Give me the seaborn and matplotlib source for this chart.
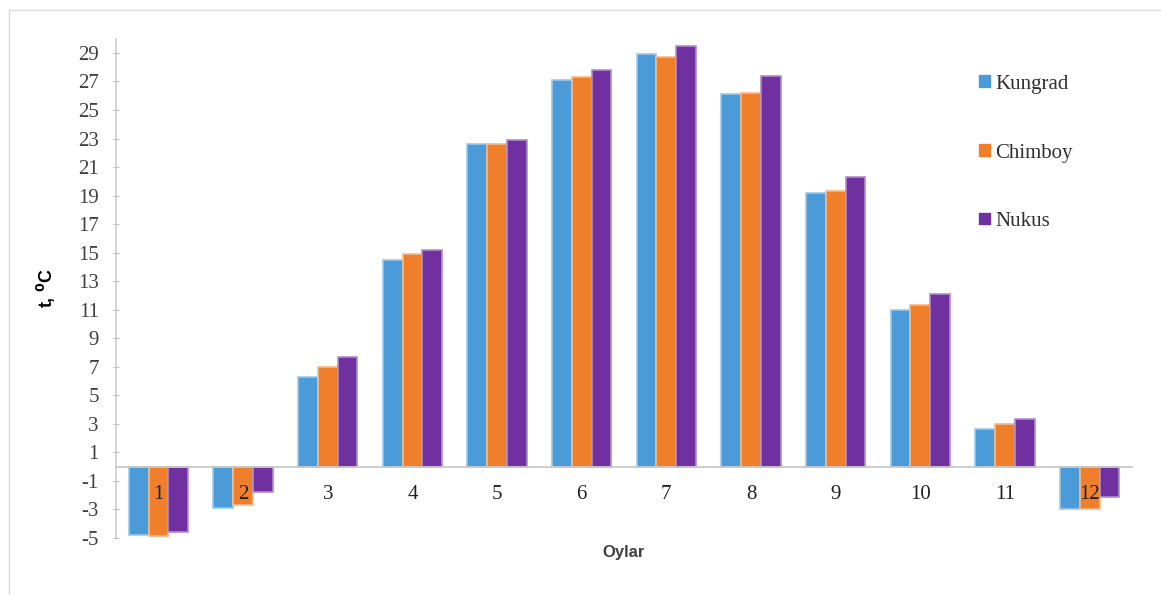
import matplotlib
matplotlib.use("Agg")
import matplotlib.pyplot as plt
import matplotlib.colors as mcolors
import seaborn as sns
import pandas as pd
import numpy as np

months = [str(m) for m in range(1, 13)]
kungrad = [-4.8, -2.9, 6.3, 14.5, 22.6, 27.1, 28.9, 26.1, 19.2, 11.0, 2.6, -3.0]
chimboy = [-4.9, -2.7, 7.0, 14.9, 22.6, 27.3, 28.7, 26.2, 19.3, 11.3, 3.0, -3.0]
nukus = [-4.6, -1.8, 7.7, 15.2, 22.9, 27.8, 29.5, 27.4, 20.3, 12.1, 3.3, -2.1]
series = ["Kungrad", "Chimboy", "Nukus"]
colors = ["#4A9BD8", "#F07F2C", "#7030A0"]
yticks = list(range(-5, 30, 2))

df = pd.DataFrame({
    "month": months * 3,
    "temp": kungrad + chimboy + nukus,
    "station": [s for s in series for _ in months],
})

sns.set_theme(style="white")
plt.rcParams["font.family"] = ["Liberation Serif", "DejaVu Serif"]

fig = plt.figure(figsize=(11.61, 5.95), dpi=100)
ax = fig.add_axes([0.100, 0.096, 0.875, 0.839])

sns.barplot(data=df, x="month", y="temp", hue="station", order=months,
            hue_order=series, palette=colors, width=0.7, ax=ax,
            saturation=1, linewidth=1.2, errorbar=None)

for cont, c in zip(ax.containers, colors):
    rgb = np.array(mcolors.to_rgb(c))
    light = rgb + (1 - rgb) * 0.45
    for p in cont.patches:
        p.set_edgecolor(light)

ax.set_axisbelow(False)
ax.set_ylim(-5, 30)
ax.set_xlim(-0.5, 11.5)
ax.set_yticks(yticks)
ax.set_yticklabels([str(t) for t in yticks], fontsize=15, color="#404040")
ax.tick_params(axis="y", length=5, width=0.8, color="#BFBFBF", direction="inout", pad=10, left=True)
ax.tick_params(axis="x", length=0, pad=13, labelsize=15, labelcolor="#202020")

for s in ["top", "right"]:
    ax.spines[s].set_visible(False)
ax.spines["bottom"].set_position(("data", 0))
ax.spines["bottom"].set_color("#C8C8C8")
ax.spines["left"].set_color("#D0D0D0")

ax.set_ylabel(r"t, $^{\mathbf{0}}$C", fontsize=13, fontweight="bold",
              family="Liberation Sans", labelpad=14, color="#000000")
ax.set_xlabel("Oylar", fontsize=12, fontweight="bold", family="Liberation Sans",
              color="#404040")
ax.xaxis.set_label_coords(0.5, -0.015)

leg = ax.legend(loc="upper left", bbox_to_anchor=(0.84, 0.945), frameon=False,
                fontsize=15, handlelength=0.7, handleheight=0.7, handletextpad=0.15,
                labelspacing=2.35, borderaxespad=0)
for t in leg.get_texts():
    t.set_color("#303030")

fig.patches.append(plt.Rectangle((0.008, -0.01), 1.5, 0.993, transform=fig.transFigure,
                                 fill=False, edgecolor="#D9D9D9", linewidth=1.0))

fig.savefig("out.png", dpi=100)
